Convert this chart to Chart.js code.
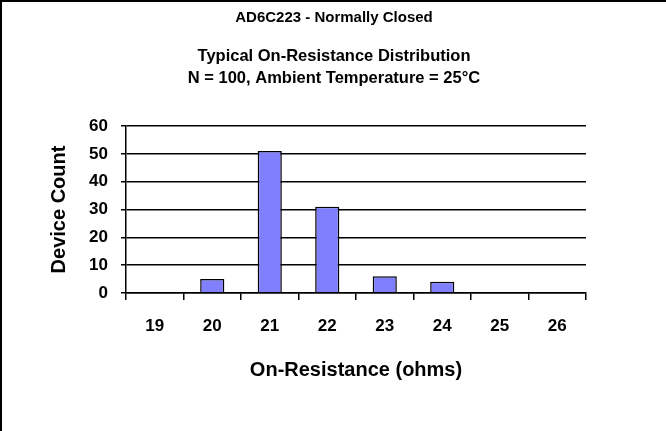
<!DOCTYPE html>
<html>
<head>
<meta charset="utf-8">
<script src="https://cdn.jsdelivr.net/npm/chart.js@4"></script>
<style>
  html, body { margin: 0; padding: 0; background: #fff; }
  #wrap { position: relative; width: 666px; height: 431px; box-sizing: border-box;
          border-top: 2px solid #000; border-left: 2px solid #000; }
  canvas { display: block; }
</style>
</head>
<body>
<div id="wrap"><canvas id="chart" width="664" height="429"></canvas></div>
<script>
'use strict';

const resistance = ['19', '20', '21', '22', '23', '24', '25', '26'];
const deviceCount = [0, 5, 51, 31, 6, 4, 0, 0];
const countTicks = [0, 10, 20, 30, 40, 50, 60];

const titleLines = ['AD6C223 - Normally Closed'];
const subtitleLines = ['Typical On-Resistance Distribution', 'N = 100, Ambient Temperature = 25°C'];

const font = 'Liberation Sans, Arial, sans-serif';

let canvasElem = document.getElementById('chart');

function renderChart() {
    let chart = {
        type: 'bar',
        data: {
            labels: resistance,
            datasets: [
                {
                    label: 'Device Count',
                    data: deviceCount,
                    backgroundColor: '#8080ff',
                    borderColor: '#000',
                    borderWidth: 1.5,
                    barPercentage: 0.42,
                    categoryPercentage: 1
                }
            ]
        },
        options: {
            responsive: false,
            animation: false,
            layout: { padding: 0 },
            plugins: {
                legend: { display: false },
                tooltip: { enabled: false },
                title: {
                    display: true,
                    text: titleLines,
                    color: '#000',
                    font: { family: font, size: 15, weight: 'bold' },
                    padding: { top: 7, bottom: 18 }
                },
                subtitle: {
                    display: true,
                    text: subtitleLines,
                    color: '#000',
                    font: { family: font, size: 16.5, weight: 'bold', lineHeight: '22px' },
                    padding: { top: 0, bottom: 37 }
                }
            },
            scales: {
                x: {
                    offset: true,
                    afterFit: function (scale) { scale.height = 138; },
                    grid: { display: true, offset: true, drawOnChartArea: false, color: '#000', tickLength: 7, lineWidth: 1.5 },
                    border: { display: true, color: '#000', width: 1.5 },
                    ticks: { color: '#000', font: { family: font, size: 17, weight: 'bold' }, padding: 16, maxRotation: 0 },
                    title: {
                        display: true,
                        text: 'On-Resistance (ohms)',
                        color: '#000',
                        font: { family: font, size: 20, weight: 'bold' },
                        padding: { top: 0, bottom: 49 }
                    }
                },
                y: {
                    min: 0,
                    max: 60,
                    afterFit: function (scale) { scale.width = 124; },
                    afterBuildTicks: function (scale) {
                        scale.ticks = countTicks.map(v => ({ value: v }));
                    },
                    grid: { color: '#000', tickLength: 5, lineWidth: 1.5 },
                    border: { display: true, color: '#000', width: 1.5 },
                    ticks: { color: '#000', font: { family: font, size: 17, weight: 'bold' }, padding: 13 },
                    title: {
                        display: true,
                        text: 'Device Count',
                        color: '#000',
                        font: { family: font, size: 20, weight: 'bold' },
                        padding: { top: 45, bottom: 0 }
                    }
                },
                // empty space on the right of the plot
                spacer: {
                    position: 'right',
                    afterFit: function (scale) { scale.width = 80; },
                    grid: { display: false },
                    border: { display: false },
                    ticks: { display: false }
                }
            }
        }
    };
    new Chart(canvasElem, chart);
}

renderChart();
</script>
</body>
</html>
